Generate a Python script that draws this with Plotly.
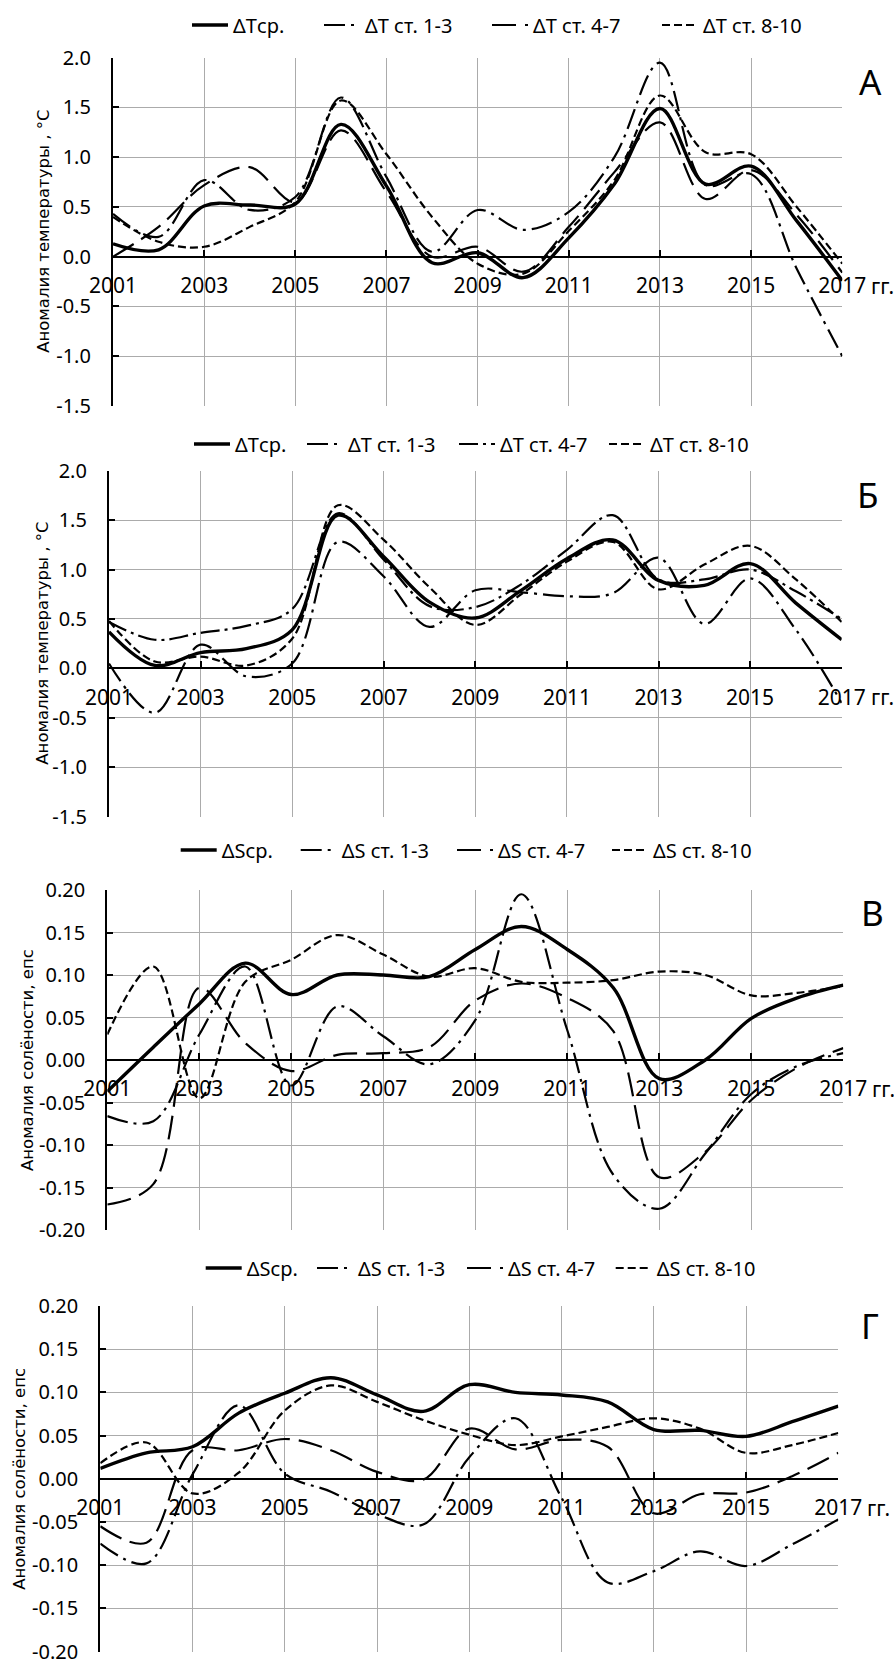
import plotly.graph_objects as go

# ---------------- data ----------------
years = [2001, 2002, 2003, 2004, 2005, 2006, 2007, 2008, 2009,
         2010, 2011, 2012, 2013, 2014, 2015, 2016, 2017]

# Panel А – temperature anomalies, °C
dT_mean_A = [0.13, 0.07, 0.51, 0.52, 0.53, 1.33, 0.71, -0.06, 0.04, -0.21, 0.19, 0.73, 1.49, 0.73, 0.91, 0.36, -0.24]
dT_st13_A = [0.43, 0.20, 0.77, 0.47, 0.60, 1.60, 0.80, 0.05, 0.47, 0.27, 0.45, 1.00, 1.95, 0.72, 0.83, -0.12, -1.00]
dT_st47_A = [0.00, 0.30, 0.72, 0.90, 0.55, 1.27, 0.65, 0.00, 0.10, -0.15, 0.30, 0.85, 1.35, 0.58, 0.87, 0.42, -0.16]
dT_st810_A = [0.40, 0.15, 0.10, 0.30, 0.55, 1.57, 1.03, 0.40, -0.07, -0.17, 0.26, 0.77, 1.62, 1.05, 1.03, 0.50, -0.07]

# Panel Б – temperature anomalies, °C
dT_mean_B = [0.37, 0.03, 0.16, 0.20, 0.39, 1.55, 1.13, 0.67, 0.51, 0.79, 1.11, 1.30, 0.89, 0.84, 1.06, 0.66, 0.29]
dT_st13_B = [0.05, -0.45, 0.24, -0.08, 0.05, 1.28, 0.93, 0.42, 0.79, 0.77, 0.73, 0.76, 1.12, 0.45, 0.91, 0.39, -0.35]
dT_st47_B = [0.47, 0.29, 0.36, 0.43, 0.60, 1.57, 1.10, 0.63, 0.62, 0.85, 1.20, 1.55, 0.90, 0.90, 1.00, 0.78, 0.50]
dT_st810_B = [0.48, 0.07, 0.12, 0.03, 0.30, 1.65, 1.30, 0.82, 0.44, 0.75, 1.08, 1.28, 0.80, 1.05, 1.24, 0.90, 0.47]

# Panel В – salinity anomalies, епс
dS_mean_V = [-0.037, 0.015, 0.066, 0.114, 0.077, 0.100, 0.100, 0.098, 0.130, 0.157, 0.130, 0.085, -0.022, 0.000, 0.049, 0.073, 0.088]
dS_st13_V = [-0.066, -0.072, 0.030, 0.110, -0.030, 0.063, 0.028, -0.005, 0.047, 0.195, 0.035, -0.135, -0.175, -0.110, -0.040, -0.007, 0.008]
dS_st47_V = [-0.170, -0.146, 0.085, 0.020, -0.013, 0.006, 0.008, 0.015, 0.070, 0.090, 0.073, 0.034, -0.138, -0.108, -0.047, -0.009, 0.014]
dS_st810_V = [0.030, 0.110, -0.045, 0.092, 0.118, 0.147, 0.124, 0.098, 0.108, 0.092, 0.091, 0.094, 0.104, 0.100, 0.076, 0.079, 0.087]

# Panel Г – salinity anomalies, епс
dS_mean_G = [0.012, 0.030, 0.037, 0.076, 0.099, 0.117, 0.097, 0.078, 0.109, 0.100, 0.097, 0.089, 0.057, 0.056, 0.049, 0.066, 0.084]
dS_st13_G = [-0.075, -0.098, 0.005, 0.085, 0.006, -0.015, -0.041, -0.053, 0.025, 0.070, -0.022, -0.120, -0.107, -0.084, -0.101, -0.076, -0.047]
dS_st47_G = [-0.055, -0.074, 0.033, 0.033, 0.046, 0.033, 0.008, -0.001, 0.058, 0.034, 0.045, 0.037, -0.040, -0.018, -0.016, 0.003, 0.030]
dS_st810_G = [0.018, 0.042, -0.017, 0.007, 0.079, 0.108, 0.089, 0.068, 0.051, 0.039, 0.049, 0.060, 0.070, 0.058, 0.030, 0.039, 0.053]

names_T = ["ΔTср.", "ΔT ст. 1-3", "ΔT ст. 4-7", "ΔT ст. 8-10"]
names_S = ["ΔSср.", "ΔS ст. 1-3", "ΔS ст. 4-7", "ΔS ст. 8-10"]

x_tickvals = [2001, 2003, 2005, 2007, 2009, 2011, 2013, 2015, 2017]
x_ticktext = ["2001", "2003", "2005", "2007", "2009", "2011", "2013", "2015", "2017"]

yticks_T = [-1.5, -1.0, -0.5, 0.0, 0.5, 1.0, 1.5, 2.0]
yticktext_T = ["-1.5", "-1.0", "-0.5", "0.0", "0.5", "1.0", "1.5", "2.0"]
yticks_S = [-0.20, -0.15, -0.10, -0.05, 0.00, 0.05, 0.10, 0.15, 0.20]
yticktext_S = ["-0.20", "-0.15", "-0.10", "-0.05", "0.00", "0.05", "0.10", "0.15", "0.20"]

ytitle_T = "Аномалия температуры , °С"
ytitle_S = "Аномалия солёности, епс"
year_unit = "гг."

# ---------------- styling ----------------
W, H = 894, 1663
FONT = "Noto Sans"
GRID = "#ababab"
ITEMW = 36                 # legend symbol width
TEXTGAP = ITEMW + 10       # plotly: symbol width + 2 * itemGap

STY = {
    "solid": dict(width=3.4, dash="solid"),
    "dashdot": dict(width=2.2, dash="21px,6px,3px,6px"),
    "longdashdot": dict(width=2.2, dash="19px,5px,3px,5px"),
    "longdash": dict(width=2.2, dash="24px,9px"),
    "shortdash": dict(width=2.2, dash="8px,4px"),
}

panels = [
    dict(series=[dT_mean_A, dT_st13_A, dT_st47_A, dT_st810_A], names=names_T,
         styles=["solid", "dashdot", "longdash", "shortdash"],
         xpx=(113, 842.3), ypx=(57.7, 406), yrange=(-1.5, 2.0),
         yticks=yticks_T, yticktext=yticktext_T, ytitle=ytitle_T, ytitle_x=44,
         legend_y=25, legend_text=[233, 365, 533, 703], label="А", label_xy=(870, 82)),
    dict(series=[dT_mean_B, dT_st13_B, dT_st47_B, dT_st810_B], names=names_T,
         styles=["solid", "dashdot", "longdashdot", "shortdash"],
         xpx=(109, 841.7), ypx=(470.7, 816.7), yrange=(-1.5, 2.0),
         yticks=yticks_T, yticktext=yticktext_T, ytitle=ytitle_T, ytitle_x=43,
         legend_y=444, legend_text=[235, 348, 500, 650], label="Б", label_xy=(868, 494)),
    dict(series=[dS_mean_V, dS_st13_V, dS_st47_V, dS_st810_V], names=names_S,
         styles=["solid", "dashdot", "longdash", "shortdash"],
         xpx=(107.3, 843.3), ypx=(890, 1230), yrange=(-0.2, 0.2),
         yticks=yticks_S, yticktext=yticktext_S, ytitle=ytitle_S, ytitle_x=27,
         legend_y=850, legend_text=[221.7, 341.7, 498, 653], label="В", label_xy=(872, 912)),
    dict(series=[dS_mean_G, dS_st13_G, dS_st47_G, dS_st810_G], names=names_S,
         styles=["solid", "dashdot", "longdash", "shortdash"],
         xpx=(100.3, 838.3), ypx=(1306, 1651.5), yrange=(-0.2, 0.2),
         yticks=yticks_S, yticktext=yticktext_S, ytitle=ytitle_S, ytitle_x=20,
         legend_y=1268, legend_text=[246.7, 358, 508, 656.7], label="Г", label_xy=(870, 1325)),
]

fig = go.Figure()
layout = dict(template="none", width=W, height=H, margin=dict(l=0, r=0, t=0, b=0, pad=0, autoexpand=False),
              paper_bgcolor="white", plot_bgcolor="white", showlegend=True,
              font=dict(family=FONT, color="black"), hovermode=False)
annotations = []

for i, p in enumerate(panels):
    n = "" if i == 0 else str(i + 1)
    xa, ya = "x" + n, "y" + n
    leg = "legend" + n
    starts = p["legend_text"]
    for j, (vals, name, st) in enumerate(zip(p["series"], p["names"], p["styles"])):
        tr = go.Scatter(x=years, y=vals, name=name, mode="lines",
                        line=dict(color="black", shape="spline", smoothing=1.0, **STY[st]),
                        xaxis=xa, yaxis=ya, legend=leg, hoverinfo="skip")
        if j < 3:
            tr.legendwidth = starts[j + 1] - starts[j] - TEXTGAP - 5
        fig.add_trace(tr)

    x0, x1 = p["xpx"][0] / W, p["xpx"][1] / W
    yb, yt = 1 - p["ypx"][1] / H, 1 - p["ypx"][0] / H
    lo, hi = p["yrange"]
    zero_pos = yb + (0 - lo) / (hi - lo) * (yt - yb)

    layout["xaxis" + n] = dict(domain=[x0, x1], range=[2001, 2017], anchor="free", position=zero_pos,
                               tickvals=x_tickvals, ticktext=x_ticktext,
                               showgrid=True, gridcolor=GRID, gridwidth=1.2,
                               showline=True, linecolor="black", linewidth=2.2,
                               ticks="inside", ticklen=6, tickwidth=1.5, tickcolor="black",
                               tickfont=dict(family=FONT, size=21, color="black"),
                               ticklabelstandoff=10, zeroline=False, fixedrange=True,
                               automargin=False, ticklabeloverflow="allow")
    layout["yaxis" + n] = dict(domain=[yb, yt], range=[lo, hi], anchor=xa,
                               tickvals=p["yticks"], ticktext=p["yticktext"],
                               showgrid=True, gridcolor=GRID, gridwidth=1.2,
                               showline=True, linecolor="black", linewidth=2.2,
                               ticks="inside", ticklen=6, tickwidth=1.5, tickcolor="black",
                               tickfont=dict(family=FONT, size=20, color="black"),
                               ticklabelstandoff=16, zeroline=False, fixedrange=True,
                               automargin=False, ticklabeloverflow="allow")
    layout[leg] = dict(orientation="h", x=(starts[0] - TEXTGAP) / W, xanchor="left",
                       y=1 - p["legend_y"] / H, yanchor="middle", itemwidth=ITEMW,
                       font=dict(family=FONT, size=20, color="black"),
                       bgcolor="rgba(0,0,0,0)", borderwidth=0)

    annotations.append(dict(text=p["label"], x=p["label_xy"][0] / W, y=1 - p["label_xy"][1] / H,
                            xref="paper", yref="paper", showarrow=False,
                            xanchor="center", yanchor="middle",
                            font=dict(family=FONT, size=35, color="black")))
    annotations.append(dict(text=year_unit, x=2017, y=0, xref=xa, yref=ya, showarrow=False,
                            xanchor="left", yanchor="middle", xshift=27, yshift=-29,
                            font=dict(family=FONT, size=21, color="black")))
    annotations.append(dict(text=p["ytitle"], x=p["ytitle_x"] / W, y=(yb + yt) / 2,
                            xref="paper", yref="paper", showarrow=False, textangle=-90,
                            xanchor="center", yanchor="middle",
                            font=dict(family="DejaVu Sans", size=16.5, color="black")))

layout["annotations"] = annotations
fig.update_layout(**layout)
fig.write_html("out.html")
